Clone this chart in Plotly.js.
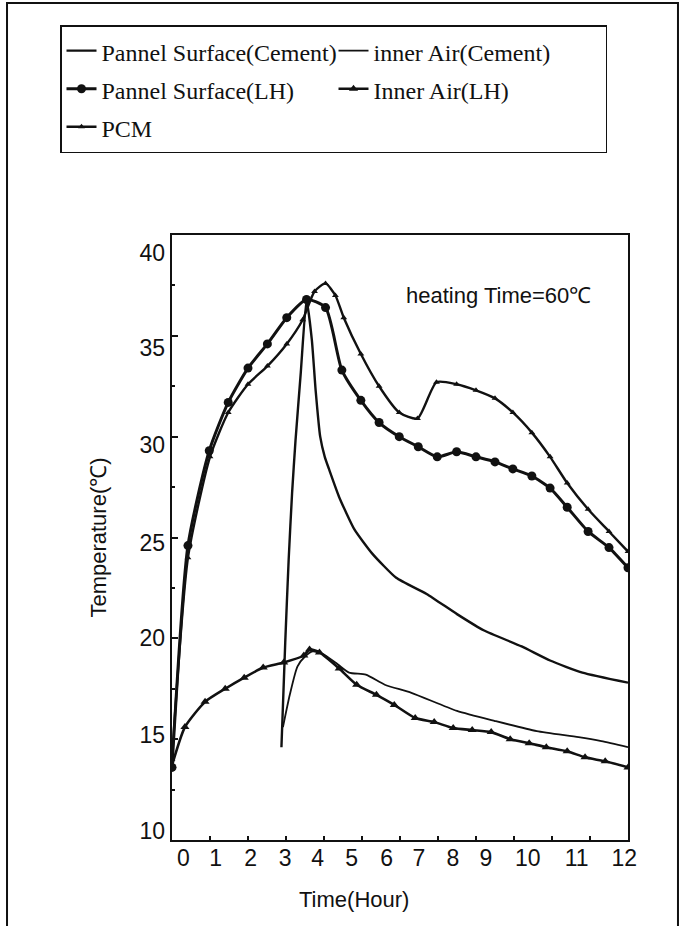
<!DOCTYPE html>
<html>
<head>
<meta charset="utf-8">
<script src="https://cdn.plot.ly/plotly-3.0.1.min.js"></script>
<style>
html, body { margin: 0; padding: 0; background: #ffffff; }
#chart { width: 679px; height: 926px; }
</style>
</head>
<body>
<div id="chart"></div>
<script>
// ---- data (time in hours, temperature in °C) ----
const seriesNames = [
  'Pannel Surface(Cement)',
  'inner Air(Cement)',
  'Pannel Surface(LH)',
  'Inner Air(LH)',
  'PCM'
];

const hoursCementSurface = [2.88, 2.98, 3.07, 3.16, 3.25, 3.39, 3.54, 3.68, 3.78, 3.9, 4.02, 4.13, 4.4, 4.8, 5.27, 5.9, 6.7, 7.5, 8.2, 9.2, 9.95, 10.8, 12.0];
const tempCementSurface  = [14.6, 19.8, 23.9, 27.2, 29.8, 33.2, 36.8, 34.8, 32.3, 30.0, 29.0, 28.4, 27.0, 25.4, 24.2, 23.0, 22.2, 21.2, 20.4, 19.6, 18.9, 18.3, 17.8];

const hoursCementAir = [2.92, 3.1, 3.3, 3.5, 3.7, 3.95, 4.3, 4.66, 5.1, 5.6, 6.3, 7.5, 8.5, 9.6, 10.7, 11.3, 12.0];
const tempCementAir  = [15.6, 17.2, 18.6, 19.1, 19.35, 19.25, 18.8, 18.3, 18.2, 17.7, 17.3, 16.4, 15.9, 15.4, 15.1, 14.9, 14.6];

const hoursLHSurface = [0.0, 0.42, 0.98, 1.48, 2.0, 2.51, 3.02, 3.54, 4.04, 4.47, 4.97, 5.45, 5.98, 6.48, 6.98, 7.49, 8.0, 8.5, 8.97, 9.47, 9.95, 10.4, 10.95, 11.5, 12.0];
const tempLHSurface  = [13.6, 24.6, 29.3, 31.7, 33.4, 34.6, 35.9, 36.8, 36.4, 33.3, 31.8, 30.7, 30.0, 29.5, 29.0, 29.25, 29.0, 28.75, 28.4, 28.05, 27.45, 26.5, 25.3, 24.5, 23.5];

const hoursLHAir = [0.0, 0.34, 0.87, 1.4, 1.9, 2.4, 2.94, 3.47, 3.62, 3.88, 4.4, 4.86, 5.38, 5.85, 6.4, 6.9, 7.4, 7.9, 8.4, 8.9, 9.4, 9.85, 10.4, 10.87, 11.4, 12.0];
const tempLHAir  = [13.7, 15.6, 16.85, 17.5, 18.05, 18.55, 18.8, 19.15, 19.45, 19.3, 18.5, 17.7, 17.2, 16.7, 16.05, 15.85, 15.55, 15.45, 15.35, 15.0, 14.8, 14.6, 14.4, 14.1, 13.9, 13.6];

const hoursPCM = [0.0, 0.42, 1.0, 1.48, 2.0, 2.51, 3.02, 3.44, 3.75, 4.04, 4.3, 4.52, 4.97, 5.45, 5.98, 6.46, 6.96, 7.49, 8.0, 8.5, 8.97, 9.47, 9.95, 10.4, 10.95, 11.5, 12.0];
const tempPCM  = [14.0, 24.0, 29.0, 31.2, 32.6, 33.5, 34.6, 35.8, 37.2, 37.6, 37.0, 35.9, 34.1, 32.5, 31.2, 30.9, 32.7, 32.6, 32.3, 31.9, 31.2, 30.2, 29.0, 27.7, 26.4, 25.3, 24.3];

// tick labels as printed (their printed positions, in hours / °C)
const xTickText = ['0','1','2','3','4','5','6','7','8','9','10','11','12'];
const xTickPos  = [0.3, 1.15, 2.07, 2.98, 3.83, 4.73, 5.65, 6.5, 7.39, 8.26, 9.36, 10.65, 11.9];
const yTickText = ['10','15','20','25','30','35','40'];
const yTickPos  = [10.45, 15.2, 20.0, 24.75, 29.57, 34.38, 39.12];

const noteText = 'heating Time=60\u2103';
const xTitle = 'Time(Hour)';
const yTitle = 'Temperature(\u2103)';

// ---- traces ----
const black = '#111111';
const legendLabel = (s) => '<span style="font-size:24px">' + s + '</span>';

const traces = [
  { x: hoursCementSurface, y: tempCementSurface, name: legendLabel(seriesNames[0]), mode: 'lines',
    line: { color: black, width: 2.4, shape: 'spline', smoothing: 0.5 } },
  { x: hoursCementAir, y: tempCementAir, name: legendLabel(seriesNames[1]), mode: 'lines',
    line: { color: black, width: 1.8, shape: 'spline', smoothing: 0.6 } },
  { x: hoursLHSurface, y: tempLHSurface, name: legendLabel(seriesNames[2]), mode: 'lines+markers',
    line: { color: black, width: 3, shape: 'spline', smoothing: 0.6 },
    marker: { symbol: 'circle', size: 9, color: black } },
  { x: hoursLHAir, y: tempLHAir, name: legendLabel(seriesNames[3]), mode: 'lines+markers',
    line: { color: black, width: 2.6, shape: 'spline', smoothing: 0.6 },
    marker: { symbol: 'triangle-up', size: 8, color: black } },
  { x: hoursPCM, y: tempPCM, name: legendLabel(seriesNames[4]), mode: 'lines+markers',
    line: { color: black, width: 2.4, shape: 'spline', smoothing: 0.6 },
    marker: { symbol: 'triangle-up', size: 6, color: black } },
  // helper (empty) trace so the label axes are drawn
  { x: [], y: [], xaxis: 'x2', yaxis: 'y2', showlegend: false, hoverinfo: 'skip', mode: 'markers' }
];

const sansFont = 'Liberation Sans, Arial, sans-serif';
const tickFont = { family: sansFont, size: 23, color: black };

const layout = {
  width: 679,
  height: 926,
  margin: { l: 172, r: 51, t: 235, b: 86, autoexpand: false },
  paper_bgcolor: '#ffffff',
  plot_bgcolor: '#ffffff',
  showlegend: true,
  legend: {
    orientation: 'h',
    x: -0.2456, xanchor: 'left',
    y: 1.347, yanchor: 'top',
    bgcolor: '#ffffff',
    bordercolor: black,
    borderwidth: 1.5,
    font: { family: 'Liberation Serif, Times New Roman, serif', size: 27, color: black },
    entrywidth: 227,
    entrywidthmode: 'pixels',
    itemwidth: 30,
    traceorder: 'normal'
  },
  xaxis: {
    range: [0, 12],
    dtick: 1, tick0: 0,
    ticks: 'inside', ticklen: 4, tickwidth: 2, tickcolor: black,
    showticklabels: false,
    showline: true, linecolor: black, linewidth: 2, mirror: true,
    showgrid: false, zeroline: false, fixedrange: true
  },
  yaxis: {
    range: [10, 40],
    dtick: 5, tick0: 10,
    ticks: 'inside', ticklen: 6, tickwidth: 2, tickcolor: black,
    minor: { dtick: 2.5, ticks: 'inside', ticklen: 3, tickwidth: 2, tickcolor: black, showgrid: false },
    showticklabels: false,
    showline: true, linecolor: black, linewidth: 2, mirror: true,
    showgrid: false, zeroline: false, fixedrange: true
  },
  xaxis2: {
    overlaying: 'x', anchor: 'y2', side: 'bottom',
    range: [0, 12],
    tickmode: 'array', tickvals: xTickPos, ticktext: xTickText,
    ticks: '', ticklabelstandoff: 2,
    tickfont: tickFont,
    showline: false, showgrid: false, zeroline: false, fixedrange: true
  },
  yaxis2: {
    overlaying: 'y', anchor: 'x2', side: 'left',
    range: [10, 40],
    tickmode: 'array', tickvals: yTickPos, ticktext: yTickText,
    ticks: '', ticklabelstandoff: 6,
    tickfont: tickFont,
    showline: false, showgrid: false, zeroline: false, fixedrange: true,
    title: { text: yTitle, font: { family: sansFont, size: 22, color: black }, standoff: 26 }
  },
  annotations: [
    { x: 8.6, y: 37.0, xref: 'x', yref: 'y', text: noteText, showarrow: false,
      font: { family: sansFont, size: 22, color: black } },
    { x: 4.8, y: -0.099, xref: 'x', yref: 'paper', text: xTitle, showarrow: false,
      xanchor: 'center', yanchor: 'middle',
      font: { family: sansFont, size: 22, color: black } }
  ],
  shapes: [
    { type: 'rect', xref: 'paper', yref: 'paper',
      x0: -0.3618, x1: 1.1096, y0: -0.16, y1: 1.3835,
      line: { color: black, width: 2 }, fillcolor: 'rgba(0,0,0,0)', layer: 'below' }
  ]
};

Plotly.newPlot('chart', traces, layout, { staticPlot: true, displayModeBar: false });
</script>
</body>
</html>
